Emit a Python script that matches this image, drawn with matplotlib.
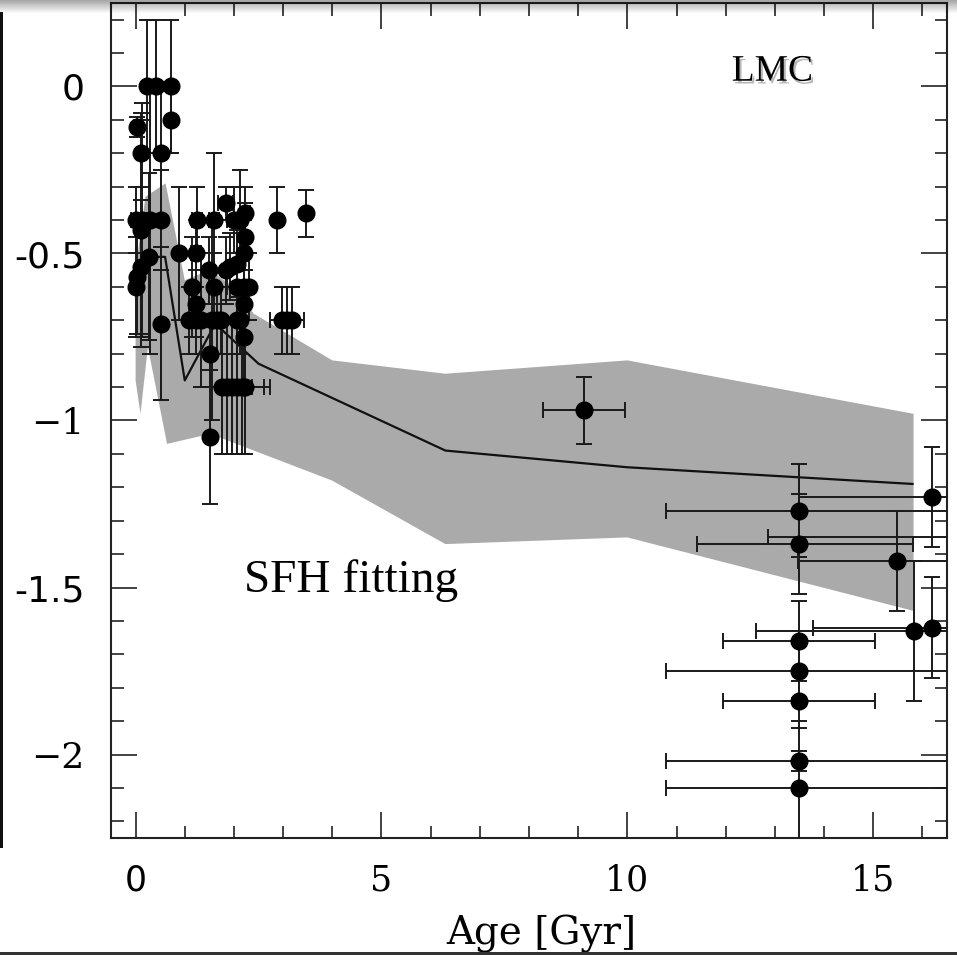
import matplotlib
matplotlib.use('Agg')
import matplotlib.pyplot as plt
import matplotlib.patheffects as pe
from matplotlib.patches import Rectangle
import numpy as np

# Cluster age-metallicity data (LMC): age [Gyr], [Fe/H], age error, [Fe/H] error
young_age = [0.03, 0.10, 0.24, 0.41, 0.71, 0.71, 0.51, 0.00, 0.14, 0.30, 0.51, 0.10,
             0.27, 0.10, 0.03, 0.00, 0.51, 0.88, 1.22, 1.25, 1.59, 2.00, 2.13, 2.23,
             2.88, 3.47, 1.83, 2.23, 2.20, 2.06, 1.93, 1.83, 1.49, 1.15, 1.59, 2.06,
             2.20, 2.30, 1.22, 2.20, 1.08, 1.22, 1.32, 1.56, 1.66, 1.73, 2.06, 2.13,
             2.98, 3.08, 3.18, 2.20, 1.52, 1.76, 1.86, 1.96, 2.06, 2.17, 2.23, 1.52,
             9.12]
young_feh = [-0.12, -0.20, 0.00, 0.00, 0.00, -0.10, -0.20, -0.40, -0.40, -0.40, -0.40, -0.43,
             -0.51, -0.54, -0.57, -0.60, -0.71, -0.50, -0.50, -0.40, -0.40, -0.40, -0.40, -0.38,
             -0.40, -0.38, -0.35, -0.45, -0.50, -0.53, -0.54, -0.55, -0.55, -0.60, -0.60, -0.60,
             -0.60, -0.60, -0.65, -0.65, -0.70, -0.70, -0.70, -0.70, -0.70, -0.70, -0.70, -0.70,
             -0.70, -0.70, -0.70, -0.75, -0.80, -0.90, -0.90, -0.90, -0.90, -0.90, -0.90, -1.05,
             -0.97]
young_age_err = [0.05, 0.03, 0.0, 0.0, 0.0, 0.0, 0.0, 0.10, 0.10, 0.0, 0.0, 0.0,
                 0.0, 0.0, 0.0, 0.0, 0.0, 0.0, 0.10, 0.10, 0.10, 0.15, 0.10, 0.10,
                 0.0, 0.0, 0.15, 0.0, 0.0, 0.0, 0.0, 0.0, 0.0, 0.0, 0.0, 0.20,
                 0.0, 0.0, 0.0, 0.0, 0.0, 0.0, 0.0, 0.0, 0.0, 0.0, 0.0, 0.0,
                 0.0, 0.35, 0.0, 0.0, 0.0, 0.0, 0.0, 0.0, 0.30, 0.45, 0.50, 0.0,
                 0.84]
young_feh_err = [0.03, 0.10, 0.20, 0.20, 0.20, 0.10, 0.20, 0.10, 0.35, 0.40, 0.15, 0.35,
                 0.25, 0.20, 0.17, 0.15, 0.23, 0.20, 0.10, 0.10, 0.20, 0.10, 0.15, 0.08,
                 0.10, 0.07, 0.05, 0.10, 0.10, 0.10, 0.10, 0.10, 0.10, 0.15, 0.10, 0.20,
                 0.15, 0.10, 0.10, 0.10, 0.10, 0.10, 0.20, 0.30, 0.10, 0.10, 0.10, 0.10,
                 0.10, 0.10, 0.10, 0.15, 0.10, 0.20, 0.20, 0.20, 0.20, 0.20, 0.20, 0.20,
                 0.10]

old_age = [13.49, 13.49, 13.49, 13.49, 13.49, 13.49, 13.49, 16.20, 15.48, 15.82, 16.20, 16.90]
old_feh = [-1.27, -1.37, -1.66, -1.75, -1.84, -2.02, -2.10, -1.23, -1.42, -1.63, -1.62, -1.35]
old_age_err_lo = [2.70, 2.08, 1.55, 2.70, 1.55, 2.70, 2.70, 2.70, 2.00, 3.20, 2.43, 4.05]
old_age_err_hi = [3.20, 2.31, 1.55, 3.20, 1.55, 3.20, 3.20, 0.50, 1.50, 1.00, 0.50, 0.50]
old_feh_err = [0.14, 0.15, 0.12, 0.08, 0.08, 0.03, 0.20, 0.15, 0.15, 0.21, 0.15, 0.0]

# SFH fitting: mean relation and its spread
sfh_age = [0.0, 0.25, 0.6, 1.0, 1.62, 2.5, 6.3, 10.0, 15.8]
sfh_feh = [-0.60, -0.51, -0.51, -0.88, -0.71, -0.83, -1.09, -1.14, -1.19]

band_top_age = [0.0, 0.2, 0.61, 1.0, 1.5, 2.0, 2.4, 4.0, 6.3, 10.0, 15.82]
band_top_feh = [-0.55, -0.33, -0.29, -0.58, -0.55, -0.60, -0.68, -0.82, -0.86, -0.82, -0.98]
band_bot_age = [0.0, 0.1, 0.25, 0.64, 1.52, 4.0, 6.3, 10.0, 15.82]
band_bot_feh = [-0.88, -0.98, -0.78, -1.07, -1.04, -1.18, -1.37, -1.35, -1.57]

xticks = [0, 5, 10, 15]
xtick_labels = ['0', '5', '10', '15']
xtick_fonts = ['DejaVu Sans', 'DejaVu Serif', 'DejaVu Serif', 'DejaVu Serif']
yticks = [-2, -1.5, -1, -0.5, 0]
ytick_labels = ['\u22122', '-1.5', '\u22121', '-0.5', '0']
ytick_fonts = ['DejaVu Serif', 'DejaVu Sans', 'DejaVu Serif', 'DejaVu Sans', 'DejaVu Sans']

fig = plt.figure(figsize=(9.57, 9.55), dpi=100)
ax = fig.add_axes([111/957, 1 - 838/955, (947 - 111)/957, (838 - 3)/955])

# grey band + mean line
poly_x = band_top_age + band_bot_age[::-1]
poly_y = band_top_feh + band_bot_feh[::-1]
ax.fill(poly_x, poly_y, color='#aaaaaa', lw=0, zorder=1)
ax.plot(sfh_age, sfh_feh, color='#111111', lw=1.6, zorder=2)

ekw = dict(fmt='o', color='black', ms=12, ecolor='#1a1a1a', elinewidth=1.4,
           capsize=5.5, capthick=1.4, zorder=3)
ax.errorbar(young_age, young_feh, xerr=young_age_err, yerr=young_feh_err, **ekw)
ax.errorbar(old_age, old_feh, xerr=[old_age_err_lo, old_age_err_hi], yerr=old_feh_err, **ekw)

ax.set_xlim(-0.5, 16.5)
ax.set_ylim(-2.25, 0.25)

ax.set_xticks(xticks)
ax.set_xticklabels(xtick_labels)
ax.set_xticks(np.arange(0, 17, 1), minor=True)
ax.set_yticks(yticks)
ax.set_yticklabels(ytick_labels)
ax.set_yticks(np.arange(-2.2, 0.25, 0.1), minor=True)

ax.tick_params(which='both', direction='in', top=True, right=True, width=1.2, color='#222222')
ax.tick_params(which='major', length=18.5)
ax.tick_params(which='minor', length=9)
ax.tick_params(axis='x', pad=18, labelsize=25)
ax.tick_params(axis='y', pad=19, labelsize=26)
for lab, fam in zip(ax.get_xticklabels(), xtick_fonts):
    lab.set_family(fam)
for lab, fam in zip(ax.get_yticklabels(), ytick_fonts):
    lab.set_family(fam)
for sp in ax.spines.values():
    sp.set_linewidth(1.5)
    sp.set_color('#222222')

ax.set_xlabel('Age [Gyr]', family='DejaVu Serif', fontsize=28)
ax.xaxis.set_label_coords((541 - 111) / (947 - 111), -(915 - 838) / 835)
ax.xaxis.label.set_va('top')

ax.text(12.95, 0.045, 'LMC', family='Liberation Serif', fontsize=27, ha='center', va='center',
        path_effects=[pe.withSimplePatchShadow(offset=(1.5, -2), shadow_rgbFace='#888888', alpha=0.6)])
ax.text(2.2, -1.48, 'SFH fitting', family='Liberation Serif', fontsize=34, ha='left', va='center')

# screenshot borders
fig.add_artist(Rectangle((0, 1 - 848/955), 2.5/957, (848 - 12)/955, transform=fig.transFigure,
                         color='#111111', lw=0))
fig.add_artist(Rectangle((0, 0), 1, 3/955, transform=fig.transFigure, color='#333333', lw=0))
shade = fig.add_axes([0, 1 - 14/955, 1, 14/955], zorder=10)
grad = np.zeros((14, 2, 4))
grad[:, :, 3] = np.linspace(0.35, 0.0, 14)[:, None]
shade.imshow(grad, aspect='auto', extent=[0, 1, 0, 1], origin='upper')
shade.axis('off')

fig.savefig('out.png', dpi=100)
